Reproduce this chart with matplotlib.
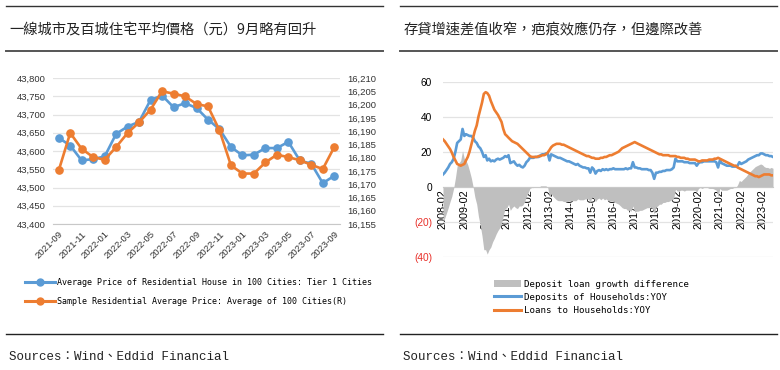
import matplotlib
matplotlib.use("Agg")
import matplotlib.pyplot as plt
from matplotlib.lines import Line2D
from matplotlib.patches import Patch
import numpy as np
import pandas as pd

# ---- left chart data: monthly 2021-09 .. 2023-09
months_left = pd.date_range("2021-09", periods=25, freq="MS").strftime("%Y-%m").tolist()
tier1_price = [43636, 43615, 43574, 43578, 43585, 43647, 43667, 43680, 43740, 43752,
               43720, 43731, 43718, 43686, 43660, 43611, 43588, 43590, 43608, 43608,
               43625, 43574, 43565, 43512, 43532]
avg100_price = [16175.2, 16189.3, 16183.3, 16180.2, 16179.2, 16184.0, 16189.3, 16193.3,
                16198.1, 16205.0, 16204.1, 16203.1, 16200.2, 16199.3, 16190.3, 16177.1,
                16174.0, 16174.0, 16178.2, 16181.1, 16180.2, 16179.0, 16177.3, 16175.7,
                16184.0]

# ---- right chart data: monthly 2008-02 .. 2023-08 (YoY, %)
deposits_yoy = [
    7, 8, 9.5, 11, 13, 14, 16, 20, 25, 26, 27,                          # 2008
    33, 29, 30, 29.5, 29, 29, 28, 26, 25, 23, 22, 20,                   # 2009
    17, 18, 15, 16, 14.5, 15, 14.5, 15.5, 16, 15.5, 16, 16.5,           # 2010
    17.5, 17, 18, 13.5, 14, 14.5, 13, 12, 12.5, 11.5, 11, 12,           # 2011
    14, 15, 16.5, 16.5, 16.5, 17, 17, 17, 18, 18.5, 18.5, 19,           # 2012
    19, 15, 18.5, 18, 17.5, 17, 16.5, 16.5, 16, 15.5, 15, 14.5,         # 2013
    14.5, 14, 13.5, 13, 12.5, 13, 12, 11.5, 11, 11, 10.5, 10.5,         # 2014
    8, 11, 10, 7.5, 9, 9.5, 9, 10, 9.5, 10, 9.5, 10,                    # 2015
    10, 10.5, 10, 10, 10, 10, 10, 10, 10.5, 10, 10.5, 10.5,             # 2016
    14, 11, 11, 10.5, 10.5, 10, 10, 10, 10, 9.5, 9.5, 8,                # 2017
    4.5, 8, 8, 8.5, 8.5, 9, 9, 9.5, 9.5, 9.5, 10, 11,                   # 2018
    16, 14.5, 14.5, 14.5, 14.5, 14, 14, 14, 13.5, 13.5, 13.5, 13.5,     # 2019
    12, 13.5, 14, 14, 14.5, 14.5, 14.5, 14.5, 14.5, 14.5, 14.5, 14,     # 2020
    11, 15, 13.5, 13, 12.5, 12, 12, 12, 11.5, 11.5, 11.5, 12,           # 2021
    14, 13, 13.5, 14, 14.5, 15.5, 16, 16.5, 17, 17.5, 18, 18,           # 2022
    19, 19, 18.5, 18, 18, 17.5, 17.5, 17,                               # 2023
]
loans_yoy = [
    27, 26, 24.5, 23, 21.5, 19.5, 17, 15, 13, 12.5, 12,                 # 2008
    12.5, 13, 15, 17, 20, 24, 28, 32, 35, 40, 44, 48,                   # 2009
    53, 54, 53.5, 52, 49, 46.5, 44, 42.5, 41, 39, 37, 33,               # 2010
    30, 29, 28, 27, 26, 25.5, 25, 24.5, 23.5, 22.5, 21.5, 20.5,         # 2011
    19.5, 18.5, 17.5, 17, 17, 17, 17, 17.5, 17.5, 18, 18, 18.5,         # 2012
    19.5, 21, 22.5, 23.5, 24, 24.5, 24.5, 24.5, 24, 24, 23.5, 23,       # 2013
    22.5, 22, 21.5, 21, 20.5, 20, 19.5, 19, 18.5, 18, 17.5, 17.5,       # 2014
    17, 16.5, 16.5, 16, 16, 16, 16.5, 16.5, 17, 17, 17.5, 18,           # 2015
    18, 18.5, 19, 19.5, 20, 21, 22, 22.5, 23, 23.5, 24, 24.5,           # 2016
    25, 25.5, 25, 24.5, 24, 23.5, 23, 22.5, 22, 21.5, 21, 20.5,         # 2017
    20, 19.5, 19, 18.5, 18.5, 18, 18, 18, 18, 17.5, 17.5, 17.5,         # 2018
    17.5, 17, 17, 16.5, 16.5, 16.5, 16, 16, 15.5, 15.5, 15.5, 15.5,     # 2019
    15, 14.5, 14.5, 15, 15, 15, 15, 15.5, 15.5, 15.5, 16, 16,           # 2020
    16.5, 16, 15.5, 15, 14.5, 14, 13.5, 13, 12.5, 12, 12, 11,           # 2021
    10.5, 10, 9.5, 9, 8.5, 8, 7.5, 7, 6.5, 6, 6, 5.5,                   # 2022
    6, 6.5, 7, 7, 7, 7, 6.5, 6.5,                                       # 2023
]
months_right = pd.date_range("2008-02", periods=len(deposits_yoy), freq="MS")

BLUE = "#5B9BD5"
ORANGE = "#ED7D31"
GRID = "#e3e3e3"
CJK = ["Noto Sans CJK TC", "DejaVu Sans"]
MONO = ["Liberation Mono", "Noto Sans CJK TC"]

plt.rcParams["font.family"] = ["Liberation Sans", "Noto Sans CJK TC"]

W, H = 780, 370
fig = plt.figure(figsize=(W / 100, H / 100), dpi=100)


def box(x0, y0, x1, y1):
    """pixel box (top-left origin) -> figure fraction rect"""
    return [x0 / W, 1 - y1 / H, (x1 - x0) / W, (y1 - y0) / H]


def hline(x0, x1, y, color, lw):
    fig.add_artist(Line2D([x0 / W, x1 / W], [1 - y / H, 1 - y / H],
                          color=color, lw=lw, transform=fig.transFigure))


# ---- page furniture: rules, titles, sources
for x0, x1 in [(6, 383), (400, 777)]:
    hline(x0, x1, 6, "#333333", 1.0)
    hline(x0, x1, 51, "#555555", 1.4)
    hline(x0, x1, 334, "#222222", 1.0)

fig.text(9 / W, 1 - 30 / H, "一線城市及百城住宅平均價格（元）9月略有回升",
         family=CJK, fontsize=10.3, color="#222222", va="center")
fig.text(404 / W, 1 - 30 / H, "存貸增速差值收窄，疤痕效應仍存，但邊際改善",
         family=CJK, fontsize=10.3, color="#222222", va="center")
for x in (9, 403):
    fig.text(x / W, 1 - 357 / H, "Sources：Wind、Eddid Financial",
             family=MONO, fontsize=9.0, color="#222222", va="center")

# ---- left chart
ax = fig.add_axes(box(53, 78, 340, 224))
ax2 = ax.twinx()
xs = np.arange(len(months_left))
ax.plot(xs, tier1_price, color=BLUE, lw=1.9, marker="o", ms=5.2, zorder=3)
ax2.plot(xs, avg100_price, color=ORANGE, lw=1.9, marker="o", ms=5.2, zorder=3)

ax.set_xlim(-0.5, len(xs) - 0.5)
ax.set_ylim(43400, 43800)
ax.set_yticks(np.arange(43400, 43801, 50))
ax.set_yticklabels([f"{v:,}" for v in range(43400, 43801, 50)])
ax2.set_ylim(16155, 16210)
ax2.set_yticks(np.arange(16155, 16211, 5))
ax2.set_yticklabels([f"{v:,}" for v in range(16155, 16211, 5)])
ax.grid(axis="y", color=GRID, lw=0.9)
ax.set_axisbelow(True)
ax.set_xticks(xs[::2])
ax.set_xticklabels(months_left[::2])
for a in (ax, ax2):
    for s in a.spines.values():
        s.set_visible(False)
ax.spines["bottom"].set_visible(True)
ax.spines["bottom"].set_color("#c8c8c8")
ax.tick_params(axis="y", length=0, pad=5, labelsize=6.8, labelcolor="#333333")
ax2.tick_params(axis="y", length=0, pad=5, labelsize=6.8, labelcolor="#333333")
ax.tick_params(axis="x", length=0, pad=4, labelsize=6.8, labelcolor="#333333",
               labelrotation=45)
plt.setp(ax.get_xticklabels(), ha="right", rotation_mode="anchor")

left_handles = [Line2D([], [], color=BLUE, lw=2.2, marker="o", ms=5),
                Line2D([], [], color=ORANGE, lw=2.2, marker="o", ms=5)]
fig.legend(left_handles,
           ["Average Price of Residential House in 100 Cities: Tier 1 Cities",
            "Sample Residential Average Price: Average of 100 Cities(R)"],
           loc="upper left", bbox_to_anchor=(22 / W, 1 - 275 / H), frameon=False,
           prop={"family": "DejaVu Sans Mono", "size": 6}, handlelength=3.6,
           handletextpad=0.2, labelspacing=1.15, borderaxespad=0)

# ---- right chart
bx = fig.add_axes(box(443, 81.7, 773, 256.7))
diff = np.array(deposits_yoy) - np.array(loans_yoy)
bx.fill_between(months_right, diff, 0, color="#bfbfbf", lw=0, zorder=1)
bx.plot(months_right, deposits_yoy, color=BLUE, lw=1.9, zorder=3)
bx.plot(months_right, loans_yoy, color=ORANGE, lw=1.9, zorder=4)

bx.set_xlim(months_right[0], months_right[-1])
bx.set_ylim(-40, 60)
bx.set_yticks([-40, -20, 0, 20, 40, 60])
bx.set_yticklabels(["(40)", "(20)", "0", "20", "40", "60"])
for lab in bx.get_yticklabels()[:2]:
    lab.set_color("#e8302a")
bx.grid(axis="y", color=GRID, lw=0.9)
bx.set_axisbelow(True)
feb_ticks = pd.date_range("2008-02", "2023-02", freq="12MS")
bx.set_xticks(feb_ticks)
bx.set_xticklabels(feb_ticks.strftime("%Y-%m"))
for s in bx.spines.values():
    s.set_visible(False)
bx.spines["bottom"].set_visible(True)
bx.spines["bottom"].set_position(("data", 0))
bx.spines["bottom"].set_color("#c8c8c8")
bx.tick_params(axis="y", length=0, pad=8, labelsize=7.3)
bx.tick_params(axis="x", length=0, pad=2, labelsize=7.8, labelrotation=90)
plt.setp(bx.get_xticklabels(), va="top", ha="center")

right_handles = [Patch(facecolor="#bfbfbf", edgecolor="none"),
                 Line2D([], [], color=BLUE, lw=2.2),
                 Line2D([], [], color=ORANGE, lw=2.2)]
fig.legend(right_handles,
           ["Deposit loan growth difference", "Deposits of Households:YOY",
            "Loans to Households:YOY"],
           loc="upper left", bbox_to_anchor=(490 / W, 1 - 276 / H), frameon=False,
           prop={"family": "DejaVu Sans Mono", "size": 6.6}, handlelength=3.0,
           handleheight=0.8, handletextpad=0.3, labelspacing=0.45, borderaxespad=0)

fig.savefig("out.png", dpi=100)
